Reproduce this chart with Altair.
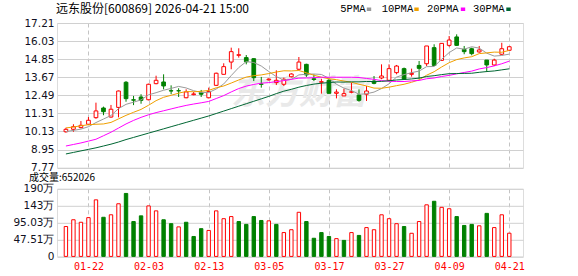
import altair as alt
import pandas as pd

# ---------------- data ----------------
dates = ["01-19", "01-20", "01-21", "01-22", "01-23", "01-26", "01-27", "01-28", "01-29", "01-30",
         "02-02", "02-03", "02-04", "02-05", "02-06", "02-09", "02-10", "02-11", "02-12", "02-13",
         "02-24", "02-25", "02-26", "02-27", "03-02", "03-03", "03-04", "03-05", "03-06", "03-09",
         "03-10", "03-11", "03-12", "03-13", "03-16", "03-17", "03-18", "03-19", "03-20", "03-23",
         "03-24", "03-25", "03-26", "03-27", "03-30", "03-31", "04-01", "04-02", "04-03", "04-07",
         "04-08", "04-09", "04-10", "04-13", "04-14", "04-15", "04-16", "04-17", "04-20", "04-21"]

opens = [10.11, 10.27, 10.38, 10.60, 11.03, 11.66, 11.07, 11.70, 13.34, 12.20,
         12.38, 12.20, 13.25, 13.36, 12.79, 12.79, 12.33, 12.53, 12.66, 12.33,
         13.14, 13.86, 14.66, 15.10, 14.95, 14.88, 13.23, 13.50, 13.32, 13.21,
         13.70, 14.19, 14.51, 13.57, 13.34, 13.47, 12.62, 12.45, 12.69, 12.51,
         12.56, 13.42, 13.62, 13.47, 13.97, 14.23, 13.86, 14.44, 14.55, 15.60,
         14.77, 15.75, 16.30, 15.49, 15.53, 15.32, 14.79, 14.47, 15.17, 15.43]
highs = [10.37, 10.60, 10.81, 11.07, 12.01, 11.75, 11.86, 12.80, 13.42, 12.45,
         12.56, 13.25, 13.77, 13.86, 13.14, 12.95, 12.88, 12.71, 12.84, 12.99,
         13.97, 14.58, 15.60, 15.56, 15.12, 14.90, 13.69, 13.60, 14.12, 13.64,
         13.93, 14.99, 14.55, 13.86, 13.57, 13.57, 12.88, 12.92, 13.31, 12.88,
         13.10, 13.75, 14.51, 14.51, 14.47, 14.30, 14.23, 14.73, 15.71, 15.82,
         15.90, 16.36, 16.47, 15.71, 15.60, 15.71, 14.79, 14.88, 15.92, 15.70]
lows = [10.05, 10.11, 10.33, 10.55, 10.96, 11.19, 11.03, 11.05, 12.07, 11.85,
        11.94, 12.16, 13.21, 12.88, 12.56, 12.38, 12.30, 12.49, 12.38, 12.29,
        13.10, 13.86, 14.19, 14.95, 14.51, 13.42, 12.99, 13.45, 13.16, 13.10,
        13.66, 14.12, 13.69, 13.42, 12.60, 12.60, 12.29, 12.45, 12.62, 12.07,
        12.12, 13.21, 13.54, 13.42, 13.86, 13.49, 13.71, 13.57, 14.40, 14.44,
        14.75, 15.66, 15.71, 15.17, 15.10, 15.27, 14.01, 14.40, 15.12, 15.40]
closes = [10.27, 10.44, 10.53, 10.86, 11.47, 11.42, 11.58, 12.77, 12.27, 12.17,
          12.16, 13.21, 13.47, 13.10, 12.77, 12.78, 12.71, 12.58, 12.56, 12.73,
          13.93, 14.36, 15.34, 15.14, 14.68, 13.64, 13.21, 13.55, 13.47, 13.54,
          13.88, 14.66, 13.82, 13.52, 13.38, 12.62, 12.70, 12.60, 12.72, 12.16,
          12.77, 13.27, 13.75, 14.23, 14.40, 13.54, 13.92, 14.25, 15.71, 14.44,
          15.88, 16.10, 15.75, 15.34, 15.21, 15.45, 14.47, 14.79, 15.53, 15.66]

# volume in 万 shares
volumes = [84, 103, 96, 109, 159, 110, 117, 148, 177, 98,
           114, 142, 128, 103, 92, 83, 96, 56, 78, 73,
           128, 106, 112, 98, 90, 112, 101, 100, 90, 67,
           75, 124, 98, 51, 67, 56, 50, 45, 67, 59,
           81, 75, 117, 106, 92, 84, 65, 98, 145, 155,
           138, 134, 112, 87, 90, 86, 121, 81, 117, 65.2]
# 1 = red (up) volume bar, 0 = green (down) volume bar
vol_up = [1, 1, 1, 1, 1, 0, 1, 1, 0, 0,
          0, 1, 1, 0, 0, 1, 0, 0, 0, 1,
          1, 1, 1, 0, 0, 0, 0, 1, 0, 1,
          1, 1, 0, 0, 0, 0, 1, 0, 1, 0,
          1, 1, 1, 1, 1, 0, 1, 1, 1, 0,
          1, 1, 0, 0, 0, 1, 0, 1, 1, 1]

ma5 = [10.12, 10.20, 10.28, 10.44, 10.71, 10.94, 11.17, 11.62, 11.90, 12.04,
       12.19, 12.52, 12.66, 12.82, 12.94, 13.07, 12.97, 12.79, 12.68, 12.67,
       12.90, 13.23, 13.78, 14.30, 14.69, 14.63, 14.40, 14.04, 13.71, 13.48,
       13.53, 13.82, 13.87, 13.88, 13.85, 13.60, 13.21, 12.96, 12.80, 12.56,
       12.59, 12.70, 12.93, 13.24, 13.68, 13.84, 13.97, 14.07, 14.36, 14.37,
       14.84, 15.28, 15.58, 15.50, 15.66, 15.57, 15.24, 15.05, 15.09, 15.18]
ma10 = [10.36, 10.42, 10.50, 10.57, 10.60, 10.62, 10.72, 10.95, 11.18, 11.38,
        11.57, 11.84, 12.14, 12.36, 12.49, 12.63, 12.74, 12.72, 12.75, 12.81,
        12.98, 13.10, 13.29, 13.49, 13.68, 13.77, 13.82, 13.91, 14.01, 14.09,
        14.08, 14.11, 13.96, 13.80, 13.67, 13.57, 13.51, 13.42, 13.34, 13.21,
        13.10, 12.96, 12.95, 13.02, 13.12, 13.21, 13.34, 13.50, 13.80, 14.03,
        14.34, 14.62, 14.82, 14.93, 15.01, 15.21, 15.26, 15.31, 15.30, 15.42]
ma20 = [9.18, 9.28, 9.38, 9.50, 9.62, 9.85, 10.08, 10.35, 10.62, 10.85,
        11.05, 11.22, 11.36, 11.48, 11.60, 11.72, 11.83, 11.92, 12.00, 12.09,
        12.28, 12.47, 12.71, 12.93, 13.09, 13.20, 13.28, 13.32, 13.38, 13.45,
        13.53, 13.61, 13.62, 13.64, 13.67, 13.67, 13.67, 13.67, 13.67, 13.65,
        13.59, 13.53, 13.45, 13.41, 13.39, 13.39, 13.43, 13.46, 13.57, 13.62,
        13.72, 13.79, 13.89, 13.98, 14.07, 14.21, 14.30, 14.41, 14.55, 14.72]
ma30 = [8.66, 8.76, 8.86, 8.96, 9.06, 9.18, 9.30, 9.44, 9.60, 9.74,
        9.88, 10.02, 10.16, 10.30, 10.44, 10.58, 10.72, 10.86, 11.00, 11.14,
        11.30, 11.46, 11.62, 11.78, 11.94, 12.10, 12.26, 12.42, 12.60, 12.76,
        12.88, 13.02, 13.13, 13.22, 13.28, 13.32, 13.36, 13.35, 13.37, 13.37,
        13.39, 13.39, 13.40, 13.44, 13.49, 13.52, 13.56, 13.61, 13.72, 13.77,
        13.84, 13.90, 13.91, 13.92, 13.93, 13.99, 14.04, 14.08, 14.15, 14.22]

price_ticks = [7.77, 8.95, 10.13, 11.31, 12.49, 13.67, 14.85, 16.03, 17.21]
vol_ticks = [0, 47.515, 95.03, 142.545, 190.06]
vol_tick_labels = ["0", "47.51万", "95.03万", "143万", "190万"]
date_tick_idx = [3, 11, 19, 27, 35, 43, 51, 59]

ma_names = ["5PMA", "10PMA", "20PMA", "30PMA"]
ma_colors = ["#9a9a9a", "#f0a000", "#ff00ff", "#006633"]

title_text = "远东股份[600869] 2026-04-21 15:00"
vol_text = "成交量:652026"
watermark_text = "东方财富"

# ---------------- styles ----------------
RED = "#ff0000"
GREEN = "#008000"
PLOT_W = 466
K_H = 144.6
V_H = 67.6
CJK = "Noto Sans CJK SC"

# ---------------- tables ----------------
n = len(dates)
kdf = pd.DataFrame({
    "idx": list(range(n)),
    "date": dates,
    "open": opens, "high": highs, "low": lows, "close": closes,
})
kdf["dir"] = ["up" if c >= o else "down" for o, c in zip(opens, closes)]

vdf = pd.DataFrame({
    "idx": list(range(n)),
    "vol": volumes,
    "dir": ["up" if u else "down" for u in vol_up],
})

one = pd.DataFrame({"k": [0]})

# ---------------- scales / axes ----------------
xscale = alt.Scale(domain=[-0.52, 60.16], nice=False, zero=False)
kscale = alt.Scale(domain=[7.77, 17.21], nice=False, zero=False)
vscale = alt.Scale(domain=[0, 190.06], nice=False, zero=True)

dates_expr = "[" + ",".join("'%s'" % d for d in dates) + "][round(datum.value)]"
vol_expr = "[" + ",".join("'%s'" % s for s in vol_tick_labels) + "][round(datum.value / 47.515)]"
price_expr = "format(datum.value, '.2f')"

x_axis_top = alt.Axis(values=date_tick_idx, labels=False, ticks=False, domain=False,
                      grid=True, gridDash=[4, 3], gridColor="#c4c4c4", title=None)
x_axis_bottom = alt.Axis(values=date_tick_idx, labelExpr=dates_expr, ticks=False, domain=False,
                         grid=True, gridDash=[4, 3], gridColor="#c4c4c4", title=None,
                         labelColor=RED, labelFont="DejaVu Sans Mono", labelFontSize=10,
                         labelPadding=5, labelFlush=False, labelOverlap=False)
k_axis = alt.Axis(values=price_ticks, labelExpr=price_expr, ticks=False, domain=False, grid=True,
                  gridColor="#d0d0d0", title=None, labelFont="DejaVu Sans", labelFontSize=10.5,
                  labelColor="#111122", labelPadding=3, labelFlush=False, labelOverlap=False,
                  minExtent=56, maxExtent=56)
v_axis = alt.Axis(values=vol_ticks, labelExpr=vol_expr, ticks=False, domain=False, grid=True,
                  gridColor="#d0d0d0", title=None, labelFont="DejaVu Sans", labelFontSize=10.5,
                  labelColor="#111122", labelPadding=3, labelFlush=False, labelOverlap=False,
                  minExtent=56, maxExtent=56)

dir_stroke = alt.Scale(domain=["up", "down"], range=[RED, GREEN])
dir_fill = alt.Scale(domain=["up", "down"], range=["#ffffff", GREEN])


def X(field="idx:Q"):
    return alt.X(field, scale=xscale, axis=x_axis_top)


def KY(field):
    return alt.Y(field, scale=kscale, axis=k_axis)


# ---------------- candle panel ----------------
axis_carrier = alt.Chart(kdf).mark_rule(opacity=0).encode(x=X(), y=KY("low:Q"), y2="high:Q")

watermark = alt.Chart(one).mark_text(
    text=watermark_text, font=CJK, fontSize=34, fontWeight="bold", fontStyle="italic",
    color="#e9e9e9", align="center", baseline="middle"
).encode(x=alt.value(242), y=alt.value(71))

wicks = alt.Chart(kdf).mark_rule(strokeWidth=1).encode(
    x=X(), y=KY("low:Q"), y2="high:Q",
    stroke=alt.Stroke("dir:N", scale=dir_stroke, legend=None),
)
bodies = alt.Chart(kdf).mark_bar(size=3.7, strokeWidth=1).encode(
    x=X(), y=KY("open:Q"), y2="close:Q",
    fill=alt.Fill("dir:N", scale=dir_fill, legend=None),
    stroke=alt.Stroke("dir:N", scale=dir_stroke, legend=None),
)

ma_layers = []
for name, col, series in zip(ma_names, ma_colors, [ma5, ma10, ma20, ma30]):
    mdf = pd.DataFrame({"idx": list(range(n)), "low": series})
    ma_layers.append(alt.Chart(mdf).mark_line(strokeWidth=1, color=col).encode(
        x=X(), y=KY("low:Q"),
    ))

title_mark = alt.Chart(one).mark_text(
    text=title_text, font=CJK, fontSize=12, color="#000000", align="left", baseline="middle"
).encode(x=alt.value(-1), y=alt.value(-14))

legend_text_x = [283.3, 324.7, 370.0, 416.0]
legend_sw_x = [312.0, 359.5, 406.0, 451.5]
legend_layers = []
for name, col, tx, sx in zip(ma_names, ma_colors, legend_text_x, legend_sw_x):
    legend_layers.append(alt.Chart(one).mark_text(
        text=name, font="Liberation Mono", fontSize=10.5, color="#000000",
        align="left", baseline="middle"
    ).encode(x=alt.value(tx), y=alt.value(-13.7)))
    legend_layers.append(alt.Chart(one).mark_rect(color=col).encode(
        x=alt.value(sx - 2.2), x2=alt.value(sx + 2.2), y=alt.value(-15.5), y2=alt.value(-12)))

candle = alt.layer(axis_carrier, watermark, wicks, bodies, *ma_layers, title_mark,
                   *legend_layers).properties(width=PLOT_W, height=K_H)

# ---------------- volume panel ----------------
vbars = alt.Chart(vdf).mark_bar(size=3.4, strokeWidth=1).encode(
    x=alt.X("idx:Q", scale=xscale, axis=x_axis_bottom),
    y=alt.Y("vol:Q", scale=vscale, axis=v_axis),
    fill=alt.Fill("dir:N", scale=dir_fill, legend=None),
    stroke=alt.Stroke("dir:N", scale=dir_stroke, legend=None),
)
vlabel = alt.Chart(one).mark_text(
    text=vol_text, font=CJK, fontSize=10, color="#000000", align="left", baseline="middle"
).encode(x=alt.value(-28), y=alt.value(-10.4))

volume = alt.layer(vbars, vlabel).properties(width=PLOT_W, height=V_H)

chart = alt.vconcat(candle, volume, spacing=20.8, bounds="flush").resolve_scale(
    fill="independent", stroke="independent"
).properties(
    padding={"left": 0, "top": 2, "right": 5, "bottom": 2}
).configure_view(stroke="#999999", strokeWidth=1).configure(background="#ffffff")

chart.save("out.html", embed_options={"renderer": "svg", "actions": False})
